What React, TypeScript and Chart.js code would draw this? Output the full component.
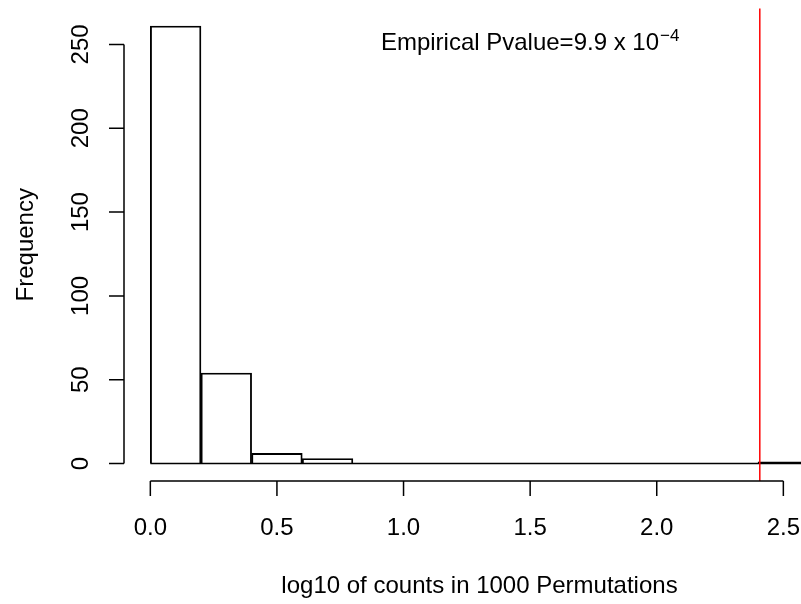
import React, { useEffect, useRef } from "react";
import { Chart, registerables } from "chart.js";

Chart.register(...registerables);

// ---- data ----
const binEdges = [0, 0.2, 0.4, 0.6, 0.8, 1.0, 1.2, 1.4, 1.6, 1.8, 2.0, 2.2, 2.4, 2.6];
const binCounts = [261, 54, 6, 3, 0, 0, 0, 0, 0, 0, 0, 0, 1];
const xTicks = [0, 0.5, 1.0, 1.5, 2.0, 2.5];
const xTickLabels = ["0.0", "0.5", "1.0", "1.5", "2.0", "2.5"];
const yTicks = [0, 50, 100, 150, 200, 250];
const yTickLabels = ["0", "50", "100", "150", "200", "250"];
const observedValue = 2.407;
const annotationX = 1.5;
const annotationY = 250;
const annotationMain = "Empirical Pvalue=9.9 x 10";
const annotationSup = "\u22124";
const xTitle = "log10 of counts in 1000 Permutations";
const yTitle = "Frequency";

const FONT = '"Liberation Sans", Arial, Helvetica, sans-serif';

export default function App() {
  const ref = useRef<HTMLCanvasElement | null>(null);

  useEffect(() => {
    document.body.style.margin = "0";
    const canvas = ref.current;
    if (!canvas) return;

    const lo = binEdges[0];
    const hi = binEdges[binEdges.length - 1];
    const xPad = (hi - lo) * 0.04;
    const maxCount = Math.max(...binCounts);
    const yPad = maxCount * 0.04;

    const barData = binCounts.map((c, i) => ({ x: (binEdges[i] + binEdges[i + 1]) / 2, y: c }));
    const baseData = [
      { x: lo, y: 0 },
      { x: hi, y: 0 },
    ];

    const rPlugin = {
      id: "rstyle",
      afterDatasetsDraw(chart: any) {
        const ctx = chart.ctx;
        const xs = chart.scales.x;
        const ca = chart.chartArea;
        ctx.save();
        const rx = xs.getPixelForValue(observedValue);
        ctx.strokeStyle = "#ff0000";
        ctx.lineWidth = 1.5;
        ctx.beginPath();
        ctx.moveTo(rx, ca.top);
        ctx.lineTo(rx, ca.bottom);
        ctx.stroke();
        ctx.restore();
      },
      afterDraw(chart: any) {
        const ctx = chart.ctx;
        const xs = chart.scales.x;
        const ys = chart.scales.y;
        const ca = chart.chartArea;
        const tickLen = 15;
        ctx.save();
        ctx.strokeStyle = "#000";
        ctx.fillStyle = "#000";
        ctx.lineWidth = 1.5;

        // x axis
        const axY = ca.bottom;
        ctx.beginPath();
        ctx.moveTo(xs.getPixelForValue(xTicks[0]), axY);
        ctx.lineTo(xs.getPixelForValue(xTicks[xTicks.length - 1]), axY);
        xTicks.forEach((t) => {
          const px = xs.getPixelForValue(t);
          ctx.moveTo(px, axY);
          ctx.lineTo(px, axY + tickLen);
        });
        ctx.stroke();
        ctx.font = "24px " + FONT;
        ctx.textAlign = "center";
        ctx.textBaseline = "alphabetic";
        xTicks.forEach((t, i) => {
          ctx.fillText(xTickLabels[i], xs.getPixelForValue(t), axY + 54);
        });
        ctx.fillText(xTitle, xs.getPixelForValue((lo + hi) / 2), axY + 112);

        // y axis
        const axX = ca.left;
        ctx.beginPath();
        ctx.moveTo(axX, ys.getPixelForValue(yTicks[0]));
        ctx.lineTo(axX, ys.getPixelForValue(yTicks[yTicks.length - 1]));
        yTicks.forEach((t) => {
          const py = ys.getPixelForValue(t);
          ctx.moveTo(axX, py);
          ctx.lineTo(axX - tickLen, py);
        });
        ctx.stroke();
        yTicks.forEach((t, i) => {
          ctx.save();
          ctx.translate(axX - 36, ys.getPixelForValue(t));
          ctx.rotate(-Math.PI / 2);
          ctx.fillText(yTickLabels[i], 0, 0);
          ctx.restore();
        });
        ctx.save();
        ctx.translate(axX - 91, (ca.top + ca.bottom) / 2);
        ctx.rotate(-Math.PI / 2);
        ctx.fillText(yTitle, 0, 0);
        ctx.restore();

        // annotation
        ctx.font = "24px " + FONT;
        const w1 = ctx.measureText(annotationMain).width;
        ctx.font = "17px " + FONT;
        const w2 = ctx.measureText(annotationSup).width;
        const gap = 1;
        const total = w1 + gap + w2;
        const cx = xs.getPixelForValue(annotationX);
        const base = ys.getPixelForValue(annotationY) + 6;
        const startX = cx - total / 2;
        ctx.textAlign = "left";
        ctx.font = "24px " + FONT;
        ctx.fillText(annotationMain, startX, base);
        ctx.font = "17px " + FONT;
        ctx.fillText(annotationSup, startX + w1 + gap, base - 9);
        ctx.restore();
      },
    };

    const chart = new Chart(canvas, {
      type: "bar",
      data: {
        datasets: [
          {
            type: "line",
            data: baseData,
            borderColor: "#000",
            borderWidth: 1.5,
            pointRadius: 0,
            fill: false,
            order: 2,
          } as any,
          {
            type: "bar",
            data: barData,
            backgroundColor: "rgba(255,255,255,0)",
            borderColor: "#000",
            borderWidth: 1.2,
            barPercentage: 1,
            categoryPercentage: 1,
            grouped: false,
            order: 1,
          } as any,
        ],
      },
      options: {
        animation: false,
        responsive: false,
        maintainAspectRatio: false,
        devicePixelRatio: 1,
        layout: { padding: { left: 124, right: 0, top: 8.5, bottom: 123 } },
        plugins: { legend: { display: false }, tooltip: { enabled: false } },
        scales: {
          x: {
            type: "linear",
            display: false,
            min: lo - xPad,
            max: hi + xPad,
            offset: false,
            ticks: { stepSize: 0.2, includeBounds: false },
            grid: { display: false },
          },
          y: {
            type: "linear",
            display: false,
            min: -yPad,
            max: maxCount + yPad,
            grid: { display: false },
          },
        },
      },
      plugins: [rPlugin],
    } as any);

    return () => chart.destroy();
  }, []);

  return (
    <div style={{ width: 801, height: 604, overflow: "hidden", position: "relative", background: "#fff" }}>
      <canvas ref={ref} width={835} height={604} style={{ display: "block" }} />
    </div>
  );
}
